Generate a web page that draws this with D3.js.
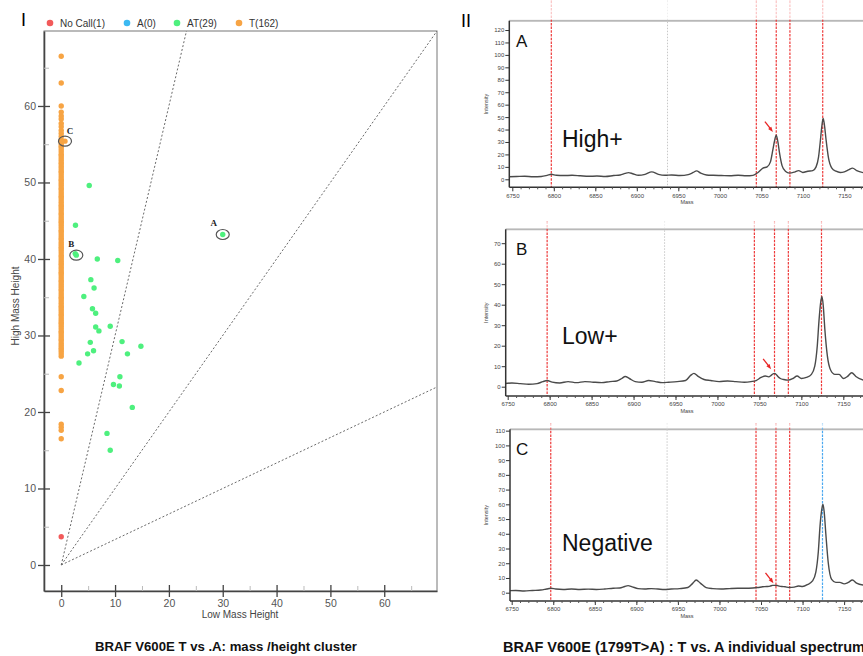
<!DOCTYPE html>
<html>
<head>
<meta charset="utf-8">
<script src="https://cdn.jsdelivr.net/npm/d3@7"></script>
<style>
  body { margin: 0; background: #fff; }
  svg { display: block; font-family: "Liberation Sans", Arial, sans-serif; }
</style>
</head>
<body>
<svg id="fig" width="863" height="656"></svg>
<script>
// ---- scatter (panel I) data ----
var legendLabels = ['No Call(1)', 'A(0)', 'AT(29)', 'T(162)'];
var noCallPoints = [[0, 3.7]];
// T calls sit on low mass height 0
var tHeights = [16.5, 17.6, 18.0, 18.4, 22.8, 24.6,
  27.3, 27.6, 27.9, 28.2, 28.4, 28.7, 29.0, 29.3, 29.5, 29.8, 30.1, 30.4, 30.6, 30.9,
  31.2, 31.5, 31.7, 32.0, 32.3, 32.6, 32.8, 33.1, 33.4, 33.7, 33.9, 34.2, 34.5, 34.8,
  35.0, 35.3, 35.6, 35.9, 36.1, 36.4, 36.7, 37.0, 37.2, 37.5, 37.8, 38.1, 38.3, 38.6,
  38.9, 39.2, 39.4, 39.7, 40.0, 40.3, 40.5, 40.8, 41.1, 41.4, 41.6, 41.9, 42.2, 42.5,
  42.7, 43.0, 43.3, 43.6, 43.8, 44.1, 44.4, 44.7, 44.9, 45.2, 45.5, 45.8, 46.0, 46.3,
  46.6, 46.9, 47.1, 47.4, 47.7, 48.0, 48.2, 48.5, 48.8, 49.1, 49.3, 49.6, 49.9, 50.2,
  50.4, 50.7, 51.0, 51.3, 51.5, 51.8, 52.1, 52.4, 52.6, 52.9, 53.2, 53.5, 53.7, 54.0,
  54.3, 54.6, 54.8, 55.1, 55.6, 56.0, 56.4, 56.8, 57.3, 57.7, 58.3, 58.7, 59.2, 60.0,
  63.0, 66.5];
var tOther = [[0.7, 55.4]];
var atPoints = [
  [5.2, 49.6], [2.65, 44.4], [2.8, 40.5], [2.6, 40.7], [6.7, 40.0], [10.5, 39.8],
  [5.5, 37.3], [6.1, 36.2], [4.2, 35.1], [5.8, 33.5], [6.4, 32.9], [6.4, 31.1],
  [7.0, 30.6], [9.1, 31.2], [5.4, 29.1], [6.0, 28.0], [4.9, 27.6], [3.3, 26.4],
  [11.3, 29.2], [12.3, 27.6], [14.8, 28.6], [10.9, 24.6], [9.7, 23.6], [10.8, 23.4],
  [13.2, 20.6], [8.5, 17.2], [9.1, 15.0], [30.0, 43.2]];
var clusterSlopes = [3, 1, 1 / 3];
var circled = [
  { label: 'A', x: 30.0, y: 43.2 },
  { label: 'B', x: 2.8, y: 40.5 },
  { label: 'C', x: 0.7, y: 55.4 }];
var scatterTicks = [0, 10, 20, 30, 40, 50, 60];
var scatterMinor = [5, 15, 25, 35, 45, 55, 65];

// ---- spectra (panel II) data ----
var massTicks = [6750, 6800, 6850, 6900, 6950, 7000, 7050, 7100, 7150];
var masses = [6746, 6755, 6765, 6775, 6785, 6792, 6797, 6803, 6812, 6822, 6832, 6842,
  6852, 6862, 6872, 6880, 6886, 6890, 6895, 6902, 6910, 6918, 6926, 6934, 6942, 6952,
  6962, 6968, 6972, 6977, 6984, 6992, 7002, 7012, 7022, 7032, 7040, 7046, 7052, 7057,
  7061, 7064, 7066, 7068, 7070, 7072, 7075, 7079, 7084, 7090, 7095, 7100, 7106, 7112,
  7116, 7119, 7121, 7123, 7124.5, 7126, 7128, 7131, 7135, 7140, 7145, 7150, 7155, 7160,
  7165, 7175];
var intensityA = [2, 2.2, 2.5, 2, 2.3, 3.2, 4, 3.2, 3, 3.2, 2.8, 2.4,
  2.6, 2.3, 3, 3.5, 4.8, 5.4, 4.5, 3.2, 4, 6, 4, 3.2, 3.5, 3,
  3.8, 5.5, 6.8, 5, 3.5, 3.2, 3, 2.8, 3.2, 2.8, 3.2, 5.5, 9, 10,
  14, 24, 31, 35.5, 30, 21, 11, 6.5, 5, 5.8, 7, 5.5, 6.5, 7,
  10, 18, 30, 43, 49, 44, 32, 17, 9, 6.5, 5.5, 6, 7.5, 9,
  7, 5];
var intensityB = [1.5, 1.8, 1.5, 1.2, 1.5, 2.5, 3, 2.2, 1.8, 2.5, 2, 2.5,
  2.2, 2, 2.5, 2.8, 4, 5, 4, 2.5, 2.2, 3, 2.5, 2, 2.2, 2.5,
  3, 5.5, 6.5, 5, 3.5, 3, 2.5, 2.8, 2.5, 2.2, 2.5, 3, 4.5, 5.2,
  4.8, 5.5, 6.2, 6.5, 6, 5, 4, 3.5, 3.2, 4, 5.2, 4, 4.5, 6,
  10, 20, 32, 41, 44, 40, 28, 15, 8, 6, 6, 4, 5, 6.8,
  5, 3];
var intensityC = [1.4, 1.5, 1.2, 1.5, 1.8, 2.5, 3, 2.5, 2.2, 2.5, 2.2, 2.4,
  2.2, 2.5, 3, 3.2, 4.2, 4.8, 4, 2.8, 2.5, 2.8, 2.5, 2.2, 2.5, 2.8,
  3.5, 6.5, 8.6, 6.5, 3.5, 2.8, 2.5, 2.8, 3, 3, 3.2, 3.5, 4, 4.2,
  4.5, 5, 5, 5, 4.8, 4.5, 4.2, 4, 3.5, 3.8, 4.5, 4.2, 5.5, 8,
  14, 28, 45, 56, 60, 55, 40, 20, 9, 7, 7, 6, 7, 8.6,
  6.5, 5];
var spectra = [intensityA, intensityB, intensityC];
var intensityMax = [120, 70, 110];
var panelLetters = ['A', 'B', 'C'];
var panelCalls = ['High+', 'Low+', 'Negative'];
var markerMasses = [6797, 7044, 7068, 7084.5, 7124];
var referenceMass = 6937;
var arrowTips = [[7064, 38], [7064, 8.5], [7065, 6.4]];

var captions = ['BRAF V600E T vs .A: mass /height cluster',
  'BRAF V600E (1799T>A) : T vs. A individual spectrum'];

// ---- styles ----
var legendColors = ['#f25a5a', '#3cb9f2', '#4ef07e', '#f7a444'];
var markerRed = '#ee3a3a';
var svg = d3.select('#fig');

// ========== panel I: scatter ==========
var box = { left: 44, right: 437, top: 31, bottom: 591 };
var x = d3.scaleLinear().domain([-3.2, 69.8]).range([box.left, box.right]);
var y = d3.scaleLinear().domain([-3.4, 69.8]).range([box.bottom, box.top]);

svg.append('text').attr('x', 21).attr('y', 26).attr('font-size', 18).text('I');

// legend
var legend = svg.append('g').attr('font-size', 10).attr('fill', '#333');
var legendX = [50, 127, 177, 239];
legendLabels.forEach(function (d, i) {
  legend.append('circle').attr('cx', legendX[i]).attr('cy', 23).attr('r', 3.3)
    .attr('fill', legendColors[i]);
  legend.append('text').attr('x', legendX[i] + 10).attr('y', 23).attr('dy', '0.35em').text(d);
});

svg.append('rect')
  .attr('x', box.left).attr('y', box.top)
  .attr('width', box.right - box.left).attr('height', box.bottom - box.top)
  .attr('fill', 'none').attr('stroke', '#777').attr('stroke-width', 1);

svg.append('clipPath').attr('id', 'clipI').append('rect')
  .attr('x', box.left).attr('y', box.top)
  .attr('width', box.right - box.left).attr('height', box.bottom - box.top);

// cluster boundary lines through origin
var plot = svg.append('g').attr('clip-path', 'url(#clipI)');
plot.selectAll('.bound').data(clusterSlopes).enter().append('line')
  .attr('x1', x(0)).attr('y1', y(0))
  .attr('x2', x(100))
  .attr('y2', function (s) { return y(100 * s); })
  .attr('stroke', '#6a6a6a').attr('stroke-width', 1).attr('stroke-dasharray', '2,2');

function dots(data, color) {
  plot.append('g').selectAll('circle').data(data).enter().append('circle')
    .attr('cx', function (d) { return x(d[0]); })
    .attr('cy', function (d) { return y(d[1]); })
    .attr('r', 2.7).attr('fill', color);
}
dots(tHeights.map(function (h) { return [0, h]; }).concat(tOther), legendColors[3]);
dots(atPoints, legendColors[2]);
dots(noCallPoints, legendColors[0]);

// circled examples
var labelOffset = { A: [-9, -8], B: [-5, -8], C: [5, -7] };
circled.forEach(function (d) {
  plot.append('ellipse').attr('cx', x(d.x)).attr('cy', y(d.y)).attr('rx', 6.5).attr('ry', 5)
    .attr('fill', 'none').attr('stroke', '#555').attr('stroke-width', 1.2);
  svg.append('text').attr('x', x(d.x) + labelOffset[d.label][0]).attr('y', y(d.y) + labelOffset[d.label][1])
    .attr('text-anchor', 'middle')
    .attr('font-family', '"Liberation Serif", "DejaVu Serif", serif').attr('font-weight', 'bold')
    .attr('font-size', 9).attr('fill', '#222').text(d.label);
});

// axes
var yAxis = svg.append('g').attr('transform', 'translate(' + box.left + ',0)')
  .call(d3.axisLeft(y).tickValues(scatterTicks).tickSizeInner(6).tickSizeOuter(0).tickPadding(2));
yAxis.selectAll('.tick line').attr('x1', 6);
var yMinor = svg.append('g').attr('transform', 'translate(' + box.left + ',0)')
  .call(d3.axisLeft(y).tickValues(scatterMinor).tickSize(-5).tickFormat(''));
var xAxis = svg.append('g').attr('transform', 'translate(0,' + box.bottom + ')')
  .call(d3.axisBottom(x).tickValues(scatterTicks).tickSizeInner(6).tickSizeOuter(0).tickPadding(3));
xAxis.selectAll('.tick line').attr('y1', -6);
var xMinor = svg.append('g').attr('transform', 'translate(0,' + box.bottom + ')')
  .call(d3.axisBottom(x).tickValues(scatterMinor).tickSize(-5).tickFormat(''));

[yAxis, xAxis].forEach(function (a) {
  a.select('.domain').attr('stroke', '#444').attr('stroke-width', 1.6);
  a.selectAll('.tick line').attr('stroke', '#444').attr('stroke-width', 1.3);
  a.selectAll('.tick text').attr('font-size', 10.5).attr('fill', '#555')
    .attr('font-family', '"Liberation Sans", Arial, sans-serif');
});
[yMinor, xMinor].forEach(function (a) {
  a.select('.domain').remove();
  a.selectAll('.tick line').attr('stroke', '#bbb');
});

svg.append('text').attr('x', 240).attr('y', 618).attr('text-anchor', 'middle')
  .attr('font-size', 10).attr('fill', '#444').text('Low Mass Height');
svg.append('text').attr('transform', 'translate(19,306) rotate(-90)').attr('text-anchor', 'middle')
  .attr('font-size', 10).attr('fill', '#444').text('High Mass Height');

// ========== panel II: spectra ==========
svg.append('text').attr('x', 461).attr('y', 27).attr('font-size', 18).text('II');

// kx: px per mass unit, ky: px per intensity unit
var panels = [
  { top: 20.7, bottom: 187.3, left: 509.3, x0: 512.3, kx: 0.830, y0: 179.3, ky: 1.244, above: 20, callY: 146.7 },
  { top: 229.3, bottom: 396, left: 505.7, x0: 507.7, kx: 0.839, y0: 386.7, ky: 2.05, above: 8, callY: 344 },
  { top: 429.3, bottom: 601, left: 510, x0: 511.7, kx: 0.831, y0: 592.7, ky: 1.473, above: 6, callY: 551 }];
var rightEdge = 875;

panels.forEach(function (p, i) {
  var px = d3.scaleLinear().domain([6750, 7150]).range([p.x0, p.x0 + 400 * p.kx]);
  var py = d3.scaleLinear().domain([0, 10]).range([p.y0, p.y0 - p.ky * 10]);
  var g = svg.append('g');

  g.append('clipPath').attr('id', 'clipS' + i).append('rect')
    .attr('x', p.left).attr('y', p.top).attr('width', rightEdge - p.left).attr('height', p.bottom - p.top);

  g.append('line').attr('x1', p.left).attr('x2', rightEdge).attr('y1', p.top).attr('y2', p.top)
    .attr('stroke', '#b8b8b8').attr('stroke-width', 2);

  // reference and marker lines
  g.append('line').attr('x1', px(referenceMass)).attr('x2', px(referenceMass))
    .attr('y1', p.top - p.above).attr('y2', p.bottom)
    .attr('stroke', '#c8c8c8').attr('stroke-dasharray', '1.5,1.5');
  g.selectAll('.marker').data(markerMasses).enter().append('line')
    .attr('x1', function (m) { return px(m); }).attr('x2', function (m) { return px(m); })
    .attr('y1', p.top - p.above).attr('y2', p.bottom)
    .attr('stroke', function (m, j) { return (i === 2 && j === markerMasses.length - 1) ? '#4aa8f0' : markerRed; })
    .attr('stroke-width', 1.2).attr('stroke-dasharray', '2.5,1.2');
  g.append('rect').attr('x', p.left).attr('y', p.top - p.above).attr('width', rightEdge - p.left)
    .attr('height', p.above - 1).attr('fill', '#fff').attr('opacity', 0.7);

  var line = d3.line()
    .x(function (d, j) { return px(masses[j]); })
    .y(function (d) { return py(d); })
    .curve(d3.curveMonotoneX);
  g.append('path').datum(spectra[i]).attr('clip-path', 'url(#clipS' + i + ')')
    .attr('d', line).attr('fill', 'none').attr('stroke', '#4a4a4a').attr('stroke-width', 1.4);

  // axes
  var ya = g.append('g').attr('transform', 'translate(' + p.left + ',0)')
    .call(d3.axisLeft(py).tickValues(d3.range(0, intensityMax[i] + 1, 10)).tickSize(4).tickPadding(1));
  ya.select('.domain').attr('d', 'M0,' + p.top + 'V' + p.bottom);
  var xa = g.append('g').attr('transform', 'translate(0,' + p.bottom + ')')
    .call(d3.axisBottom(px).tickValues(massTicks).tickSize(4).tickPadding(2).tickFormat(d3.format('d')));
  xa.select('.domain').attr('d', 'M' + p.left + ',0H' + rightEdge);
  var xm = g.append('g').attr('transform', 'translate(0,' + p.bottom + ')')
    .call(d3.axisBottom(px).tickValues(d3.range(6760, 7180, 10)).tickSize(2).tickFormat(''));
  xm.select('.domain').remove();
  [ya, xa].forEach(function (a) {
    a.select('.domain').attr('stroke', '#333').attr('stroke-width', 1.5);
    a.selectAll('.tick line').attr('stroke', '#333');
    a.selectAll('.tick text').attr('font-size', 6).attr('fill', '#444')
      .attr('font-family', '"Liberation Sans", Arial, sans-serif');
  });
  xm.selectAll('.tick line').attr('stroke', '#555');

  g.append('text').attr('x', 687).attr('y', p.bottom + 16.5).attr('text-anchor', 'middle')
    .attr('font-size', 5.5).attr('fill', '#444').text('Mass');
  g.append('text').attr('transform', 'translate(488,' + ((p.top + p.bottom) / 2) + ') rotate(-90)')
    .attr('text-anchor', 'middle').attr('font-size', 5.5).attr('fill', '#444').text('Intensity');

  g.append('text').attr('x', 516).attr('y', p.top + 26).attr('font-size', 17).attr('fill', '#111')
    .text(panelLetters[i]);
  g.append('text').attr('x', 562).attr('y', p.callY).attr('font-size', 23).attr('fill', '#111')
    .text(panelCalls[i]);

  // red arrow towards the low-mass (A allele) peak
  var tip = arrowTips[i];
  var tx = px(tip[0]), ty = py(tip[1]);
  g.append('line').attr('x1', tx - 8).attr('y1', ty - 10.5).attr('x2', tx - 2.5).attr('y2', ty - 3.3)
    .attr('stroke', '#e82525').attr('stroke-width', 1.3);
  g.append('path').attr('d', 'M' + tx + ',' + ty + 'L' + (tx - 4.8) + ',' + (ty - 3) + 'L' + (tx - 1.6) + ',' + (ty - 5.4) + 'Z')
    .attr('fill', '#e82525');
});

// captions
svg.append('text').attr('x', 95).attr('y', 651).attr('textLength', 262).attr('lengthAdjust', 'spacingAndGlyphs')
  .attr('font-family', '"Liberation Sans Narrow", "Liberation Sans", Arial, sans-serif')
  .attr('font-weight', 'bold').attr('font-size', 12.5).attr('fill', '#111').text(captions[0]);
svg.append('text').attr('x', 503).attr('y', 652).attr('textLength', 362).attr('lengthAdjust', 'spacingAndGlyphs')
  .attr('font-family', '"Liberation Sans", Arial, sans-serif')
  .attr('font-weight', 'bold').attr('font-size', 14).attr('fill', '#111').text(captions[1]);
</script>
</body>
</html>
